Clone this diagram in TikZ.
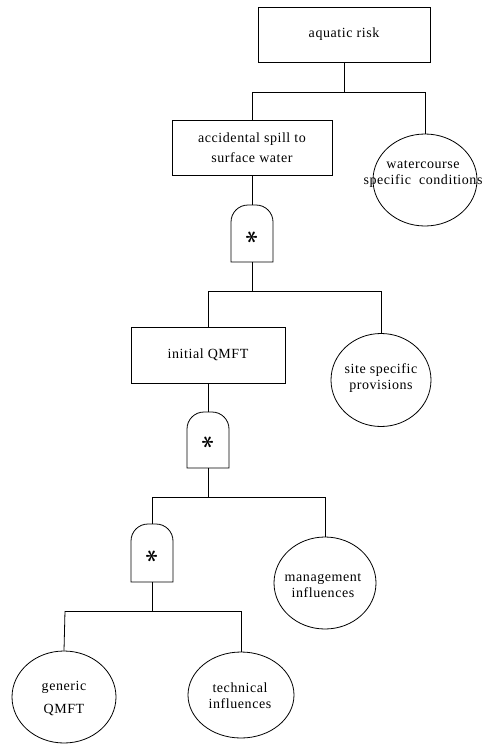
\documentclass[tikz,border=0pt]{standalone}
\usepackage{fontspec}
\setmainfont{Liberation Serif}
\newfontfamily\dlblfont[LetterSpace=4]{Liberation Serif}
\newcommand\dlbl{\dlblfont\fontsize{14}{16}\selectfont}
\usetikzlibrary{shapes.geometric}
\newcommand\drawgate[3]{% cx, top, bottom
  \draw ({#1-21},#3) -- ({#1-21},{#2+17})
    .. controls ({#1-21},{#2+7.6}) and ({#1-13.4},#2) .. ({#1-4},#2)
    -- ({#1+4},#2)
    .. controls ({#1+13.4},#2) and ({#1+21},{#2+7.6}) .. ({#1+21},{#2+17})
    -- ({#1+21},#3) -- cycle;}
\begin{document}
\begin{tikzpicture}[x=1pt,y=-1pt,line width=0.8pt,
  box/.style={draw,rectangle,inner sep=0pt,align=center,font=\dlbl},
  oval/.style={draw,ellipse,inner sep=0pt},
  lbl/.style={align=center,font=\dlbl,inner sep=0pt},
  star/.style={rotate=90,inner sep=0pt,font=\fontsize{26}{26}\selectfont\boldmath}]
\useasboundingbox (0,0) rectangle (486,744);
% level 1
\node[box,minimum width=172pt,minimum height=55pt] (b1) at (344,34.5) {aquatic risk};
\coordinate (j1) at (344,92);
\coordinate (h1l) at (252,92);
\coordinate (h1r) at (425,92);
\node[box,minimum width=160pt,minimum height=55pt] (b2) at (252,147.5) {accidental spill to\\[4pt]surface water};
\node[oval,minimum width=104pt,minimum height=92pt] (e1) at (425,180) {};
\node[lbl] (t1) at (423,174) {watercourse\\specific~~conditions};
\draw (b1.south) -- (j1);
\draw (h1l) -- (h1r);
\draw (h1l) -- (b2.north);
\draw (h1r) -- (e1.north);
% gate 1
\coordinate (g1t) at (252,205);
\coordinate (g1b) at (252,262);
\drawgate{252}{205}{262}
\node[star] (s1) at (252,237) {$\ast$};
\draw (b2.south) -- (g1t);
\coordinate (j2) at (252,291);
\coordinate (h2l) at (208,291);
\coordinate (h2r) at (381,291);
\draw (g1b) -- (j2);
\draw (h2l) -- (h2r);
% level 2
\node[box,minimum width=154pt,minimum height=56pt] (b3) at (208,355) {initial QMFT};
\node[oval,minimum width=100pt,minimum height=93pt] (e2) at (381,380) {};
\node[lbl] (t2) at (381,378) {site specific\\provisions};
\draw (h2l) -- (b3.north);
\draw (h2r) -- (e2.north);
% gate 2
\coordinate (g2t) at (208,412);
\coordinate (g2b) at (208,468);
\drawgate{208}{412}{468}
\node[star] (s2) at (208,442) {$\ast$};
\draw (b3.south) -- (g2t);
\coordinate (j3) at (208,497);
\coordinate (h3l) at (152,497);
\coordinate (h3r) at (325,497);
\draw (g2b) -- (j3);
\draw (h3l) -- (h3r);
% level 3
\node[oval,minimum width=102pt,minimum height=92pt] (e3) at (325,583) {};
\node[lbl] (t3) at (323,586) {management\\influences};
\draw (h3r) -- (e3.north);
\coordinate (g3t) at (152,524);
\coordinate (g3b) at (152,582);
\drawgate{152}{524}{582}
\node[star] (s3) at (152,556) {$\ast$};
\draw (h3l) -- (g3t);
\coordinate (j4) at (152,611);
\coordinate (h4l) at (65,611);
\coordinate (h4r) at (241,611);
\draw (g3b) -- (j4);
\draw (h4l) -- (h4r);
% level 4
\node[oval,minimum width=104pt,minimum height=92pt] (e4) at (64,697) {};
\node[lbl] (t4) at (64,698) {generic\\[7pt]QMFT};
\node[oval,minimum width=106pt,minimum height=86pt] (e5) at (241,695) {};
\node[lbl] (t5) at (240,696) {technical\\influences};
\draw (h4l) -- (e4.north);
\draw (h4r) -- (e5.north);
\end{tikzpicture}
\end{document}
